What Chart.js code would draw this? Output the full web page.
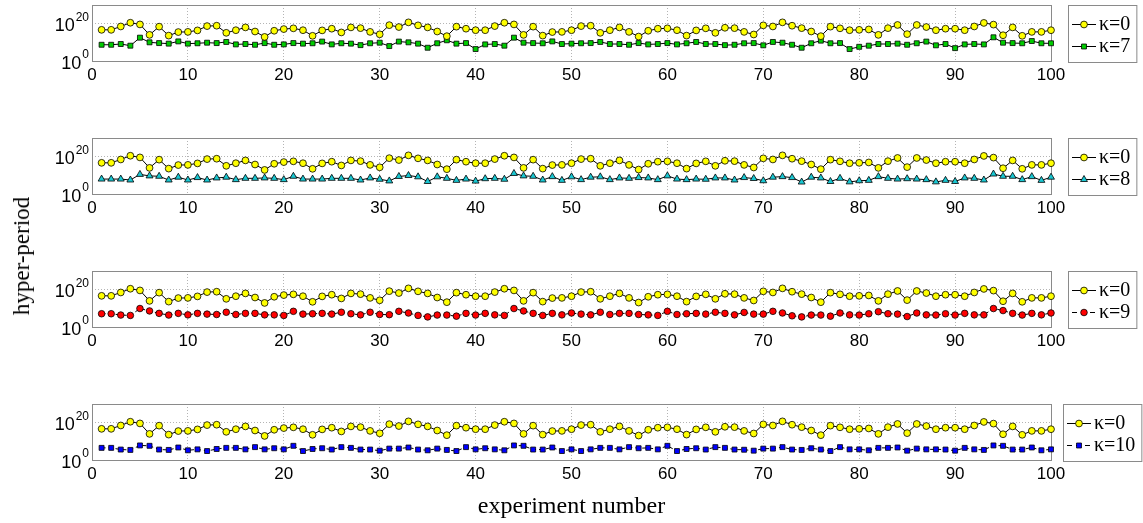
<!DOCTYPE html>
<html>
<head>
<meta charset="utf-8">
<script src="https://cdn.jsdelivr.net/npm/chart.js@4.4.1/dist/chart.umd.min.js"></script>
<style>
  html, body { margin: 0; padding: 0; background: #fff; }
  body { width: 1143px; height: 523px; position: relative; overflow: hidden; }
  .panel { position: absolute; left: 0; width: 1143px; }
  .panel canvas { display: block; }
  #ylabel {
    position: absolute; left: 22px; top: 256px;
    transform: translate(-50%, -50%) rotate(-90deg);
    font: 23px 'Liberation Serif', 'Times New Roman', serif;
    color: #000; white-space: nowrap;
  }
</style>
</head>
<body>
<div class="panel" style="top:0px;height:133px"><canvas id="c0" width="1143" height="133"></canvas></div>
<div class="panel" style="top:133px;height:133px"><canvas id="c1" width="1143" height="133"></canvas></div>
<div class="panel" style="top:266px;height:133px"><canvas id="c2" width="1143" height="133"></canvas></div>
<div class="panel" style="top:399px;height:124px"><canvas id="c3" width="1143" height="124"></canvas></div>
<div id="ylabel">hyper-period</div>
<script>
// experiment index on the x axis
const experimentNumbers = Array.from({ length: 100 }, (_, i) => i + 1);
const xTicks = [0, 10, 20, 30, 40, 50, 60, 70, 80, 90, 100];
const yTickExponents = [0, 20];

// hyper-period of each experiment, stored as log10 exponents
const log10Kappa0 = [
  16.7, 16.7, 18.5, 20.5, 19.6, 14.0, 18.4, 13.6, 15.5, 15.6,
  16.4, 18.7, 18.9, 15.1, 16.5, 18.0, 15.8, 12.9, 16.2, 17.1,
  17.5, 16.5, 13.5, 16.4, 17.3, 15.3, 18.0, 17.6, 15.6, 14.3,
  19.2, 18.2, 20.7, 19.1, 18.0, 15.8, 13.3, 18.4, 17.3, 16.5,
  16.5, 18.7, 20.5, 19.6, 14.0, 18.4, 13.6, 15.5, 15.6, 16.5,
  18.7, 18.9, 15.1, 16.5, 18.0, 15.6, 13.1, 16.2, 17.3, 17.5,
  16.5, 13.6, 16.4, 17.5, 15.1, 17.8, 17.6, 15.6, 14.2, 19.1,
  18.5, 20.7, 18.9, 17.6, 15.8, 13.3, 18.4, 17.5, 16.5, 16.7,
  16.9, 14.0, 17.6, 19.3, 14.4, 19.3, 18.2, 16.5, 17.3, 17.3,
  16.5, 18.5, 20.4, 19.5, 13.8, 18.0, 13.5, 15.6, 15.6, 16.5
];
const log10Kappa7 = [
  8.7, 8.7, 9.1, 8.2, 12.5, 10.0, 9.6, 9.3, 10.5, 9.3,
  9.5, 9.8, 9.6, 10.2, 8.9, 9.1, 8.7, 9.6, 8.7, 8.9,
  9.6, 9.3, 9.5, 10.4, 8.9, 9.5, 9.3, 8.5, 9.5, 9.8,
  8.0, 10.4, 10.0, 9.3, 7.1, 9.5, 11.1, 9.3, 9.6, 6.4,
  8.9, 9.1, 8.2, 12.5, 9.8, 9.6, 9.5, 10.5, 9.1, 9.3,
  9.5, 9.6, 10.2, 9.1, 9.1, 8.7, 9.6, 8.9, 9.1, 9.6,
  8.9, 9.5, 10.2, 9.1, 9.1, 8.5, 8.7, 9.5, 9.6, 8.4,
  10.2, 9.8, 8.7, 7.1, 9.5, 10.9, 9.5, 9.6, 6.4, 7.6,
  8.2, 9.1, 9.1, 9.3, 8.7, 9.5, 10.4, 8.4, 9.1, 6.9,
  8.9, 9.1, 8.9, 12.7, 9.8, 9.6, 9.5, 10.7, 9.5, 9.5
];
const log10Kappa8 = [
  8.0, 8.0, 8.0, 7.5, 10.5, 9.7, 9.5, 7.5, 9.0, 7.5,
  8.8, 7.5, 8.6, 9.0, 7.7, 8.4, 8.4, 8.6, 8.4, 7.7,
  9.5, 8.0, 8.0, 8.0, 8.4, 8.4, 8.4, 7.5, 8.6, 7.9,
  7.0, 9.4, 9.9, 9.2, 6.7, 9.2, 8.4, 7.3, 8.0, 6.9,
  8.2, 8.4, 7.9, 11.0, 9.7, 9.5, 7.5, 9.3, 7.3, 9.2,
  7.7, 9.0, 9.2, 7.7, 8.6, 8.4, 8.8, 8.6, 7.7, 9.7,
  8.0, 7.7, 8.0, 7.9, 8.6, 8.6, 7.5, 8.8, 8.3, 7.1,
  9.0, 9.3, 8.8, 6.4, 9.0, 8.6, 6.7, 8.4, 6.5, 7.1,
  7.3, 9.3, 8.4, 8.0, 8.2, 8.0, 7.7, 6.5, 7.3, 6.7,
  8.6, 8.4, 7.5, 10.7, 9.5, 9.5, 7.7, 9.3, 7.3, 9.0
];
const log10Kappa9 = [
  7.1, 7.1, 6.4, 6.2, 9.9, 8.6, 7.3, 6.4, 7.3, 6.5,
  7.3, 6.9, 6.7, 7.9, 6.7, 7.3, 7.3, 6.5, 6.5, 6.2,
  8.4, 6.9, 7.1, 7.3, 6.9, 7.9, 7.1, 6.5, 7.9, 6.7,
  6.6, 8.4, 7.5, 6.2, 5.4, 6.4, 6.4, 5.8, 7.3, 6.4,
  7.3, 6.5, 6.2, 9.9, 8.6, 7.3, 6.2, 7.3, 6.5, 7.5,
  6.9, 6.5, 7.9, 6.7, 7.3, 7.3, 6.7, 6.5, 6.2, 8.4,
  6.7, 7.1, 7.3, 6.9, 7.9, 7.3, 6.5, 7.8, 6.9, 6.9,
  8.4, 7.5, 6.0, 5.4, 6.4, 6.4, 5.8, 7.5, 6.5, 6.4,
  7.1, 8.2, 7.1, 6.9, 5.6, 7.5, 6.5, 6.4, 7.1, 6.4,
  7.3, 6.5, 6.5, 9.9, 8.8, 7.3, 6.4, 7.3, 6.5, 7.5
];
const log10Kappa10 = [
  6.5, 6.5, 5.6, 5.4, 7.8, 7.6, 5.6, 5.4, 6.7, 5.2,
  5.7, 4.8, 5.9, 6.5, 6.5, 5.7, 6.9, 5.7, 6.3, 5.7,
  7.6, 4.8, 5.9, 6.3, 5.6, 6.9, 6.5, 5.6, 5.6, 5.0,
  6.1, 6.1, 6.7, 5.6, 5.2, 6.1, 5.4, 4.8, 6.9, 5.7,
  6.3, 5.7, 5.2, 7.8, 7.6, 5.6, 5.6, 6.7, 4.8, 5.7,
  4.8, 5.7, 6.5, 6.5, 5.7, 6.9, 6.3, 6.5, 5.7, 7.6,
  4.8, 5.9, 6.3, 5.6, 6.9, 6.5, 5.6, 5.5, 5.0, 6.1,
  6.1, 6.9, 5.6, 5.4, 6.3, 5.6, 4.8, 6.9, 5.7, 5.7,
  5.2, 6.5, 6.5, 6.7, 5.0, 6.1, 5.7, 5.7, 5.6, 5.0,
  6.5, 5.7, 5.4, 7.8, 7.6, 5.6, 5.6, 6.7, 5.2, 5.7
];

const SANS = "'Liberation Sans', Arial, Helvetica, sans-serif";
const SERIF = "'Liberation Serif', 'Times New Roman', serif";
const FRAME = '#8a8a8a';
const GRID = '#b4b4b4';

function points(exps) {
  return exps.map((e, i) => ({ x: experimentNumbers[i], y: Math.pow(10, e) }));
}

function series(label, exps, style) {
  return Object.assign({
    label: label,
    data: points(exps),
    borderColor: '#000',
    borderWidth: 1,
    pointBorderColor: '#000',
    pointBorderWidth: 0.8,
    pointHoverRadius: 0,
    tension: 0,
    clip: false
  }, style);
}

const baseStyle = { pointStyle: 'circle', pointRadius: 3.4, pointBackgroundColor: '#ffff00' };

// frame around the plot area, superscript y tick labels, boxed legend
const framePlugin = {
  id: 'frame',
  beforeDatasetsDraw(chart) {
    const { ctx, chartArea: a } = chart;
    ctx.save();
    ctx.strokeStyle = FRAME;
    ctx.lineWidth = 1;
    ctx.strokeRect(Math.round(a.left) + 0.5, Math.round(a.top) + 0.5,
      Math.round(a.right - a.left), Math.round(a.bottom - a.top));
    ctx.restore();
  },
  afterDraw(chart) {
    const { ctx, chartArea: a } = chart;
    const ys = chart.scales.y;
    ctx.save();
    ctx.fillStyle = '#000';
    // 10^n tick labels
    ys.ticks.forEach(t => {
      const y = ys.getPixelForValue(t.value);
      const exp = String(Math.round(Math.log10(t.value)));
      ctx.font = '18px ' + SANS;
      const wBase = ctx.measureText('10').width;
      ctx.font = '12px ' + SANS;
      const wSup = ctx.measureText(exp).width;
      const right = a.left - 3;
      ctx.textAlign = 'left';
      ctx.textBaseline = 'alphabetic';
      ctx.font = '18px ' + SANS;
      ctx.fillText('10', right - wSup - wBase - 1, y + 7.5);
      ctx.font = '12px ' + SANS;
      ctx.fillText(exp, right - wSup, y - 3);
    });

    // legend
    const ds = chart.data.datasets;
    ctx.font = '20px ' + SERIF;
    let tw = 0;
    ds.forEach(d => { tw = Math.max(tw, ctx.measureText(d.label).width); });
    const bw = 37 + tw;
    const bh = a.bottom - a.top + 1;
    const bx = Math.round(1102 - bw / 2);
    const by = Math.round(a.top);
    ctx.fillStyle = '#fff';
    ctx.fillRect(bx, by, bw, bh);
    ctx.strokeStyle = FRAME;
    ctx.lineWidth = 1;
    ctx.strokeRect(bx + 0.5, by + 0.5, bw, bh);
    const rows = [by + 19, by + 41];
    ds.forEach((d, i) => {
      const y = rows[i];
      const x0 = bx + 4, x1 = bx + 28, xm = (x0 + x1) / 2;
      ctx.save();
      ctx.strokeStyle = d.borderColor;
      ctx.lineWidth = d.borderWidth;
      ctx.setLineDash(d.borderDash ? [5, 4] : []);
      ctx.beginPath();
      ctx.moveTo(x0, y + 0.5);
      ctx.lineTo(x1, y + 0.5);
      ctx.stroke();
      ctx.setLineDash([]);
      ctx.fillStyle = d.pointBackgroundColor;
      ctx.strokeStyle = d.pointBorderColor;
      ctx.lineWidth = d.pointBorderWidth;
      Chart.helpers.drawPoint(ctx, {
        pointStyle: d.pointStyle, radius: d.pointRadius, rotation: 0,
        borderWidth: d.pointBorderWidth
      }, xm, y + 0.5);
      ctx.restore();
      ctx.fillStyle = '#000';
      ctx.textAlign = 'left';
      ctx.textBaseline = 'middle';
      ctx.font = '20px ' + SERIF;
      ctx.fillText(d.label, bx + 31, y + 1);
    });
    ctx.restore();
  }
};

function makeChart(id, other, xHeight, showTitle) {
  return new Chart(document.getElementById(id), {
    type: 'line',
    data: {
      datasets: [series('κ=0', log10Kappa0, baseStyle), other]
    },
    options: {
      responsive: false,
      animation: false,
      events: [],
      layout: { padding: { left: 0, top: 5, right: 92, bottom: 0 } },
      plugins: { legend: { display: false }, tooltip: { enabled: false } },
      scales: {
        x: {
          type: 'linear', min: 0, max: 100,
          afterBuildTicks(s) { s.ticks = xTicks.map(v => ({ value: v })); },
          ticks: {
            autoSkip: false, maxRotation: 0, color: '#000', padding: 4,
            font: { family: SANS, size: 17 }
          },
          grid: { color: GRID, lineWidth: 1, drawTicks: false },
          border: { display: false, dash: [1, 2] },
          title: {
            display: showTitle, text: 'experiment number', color: '#000',
            font: { family: SERIF, size: 24 }, padding: { top: 0, bottom: 2 }
          },
          afterFit(s) { s.height = xHeight; }
        },
        y: {
          type: 'logarithmic', min: 1, max: 1e30,
          afterBuildTicks(s) { s.ticks = yTickExponents.map(e => ({ value: Math.pow(10, e) })); },
          ticks: { display: false },
          grid: { color: GRID, lineWidth: 1, drawTicks: false },
          border: { display: false, dash: [1, 2] },
          afterFit(s) { s.width = 92; }
        }
      }
    },
    plugins: [framePlugin]
  });
}

makeChart('c0', series('κ=7', log10Kappa7, {
  pointStyle: 'rect', pointRadius: 3.5, pointBackgroundColor: '#00cc00'
}), 72, false);

makeChart('c1', series('κ=8', log10Kappa8, {
  pointStyle: 'triangle', pointRadius: 4, pointBackgroundColor: '#19c7d2'
}), 72, false);

makeChart('c2', series('κ=9', log10Kappa9, {
  pointStyle: 'circle', pointRadius: 3.3, pointBackgroundColor: '#ff0000', borderDash: [4, 3]
}), 72, false);

makeChart('c3', series('κ=10', log10Kappa10, {
  pointStyle: 'rect', pointRadius: 3.5, pointBackgroundColor: '#0000ff', borderDash: [4, 3]
}), 63, true);
</script>
</body>
</html>
